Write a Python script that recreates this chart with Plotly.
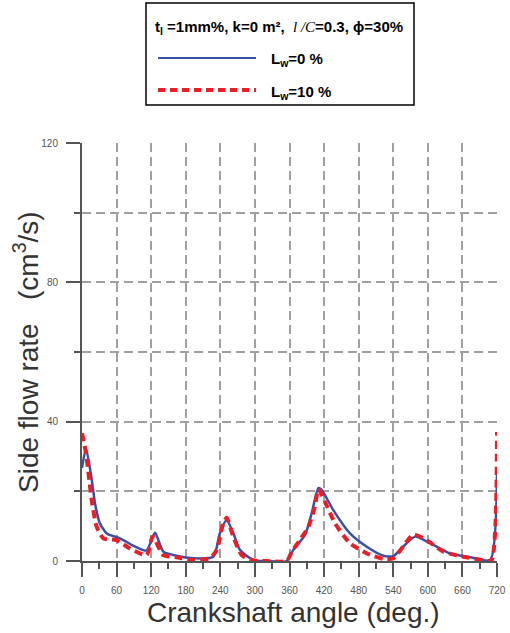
import plotly.graph_objects as go

# Lw = 0 %
angle_lw0 = [0, 7, 17, 22.5, 31, 43, 66, 89, 112, 126.6, 141, 164, 193, 228, 239, 251, 262.5, 274, 297, 320, 355,
             366.6, 387, 398.5, 410, 415.5, 436, 465, 494, 523, 540, 557, 578, 604, 638, 673, 708, 720]
flow_lw0 = [26.7, 32.3, 23.2, 16.6, 10.8, 7.9, 6.5, 4.4, 3.0, 8.1, 2.7, 1.5, 0.8, 1.2, 7.9, 11.8, 8.0, 3.2, 0.3, 0.0, 0.0,
            3.2, 7.5, 13.7, 20.9, 20.5, 14.6, 7.9, 4.1, 1.5, 1.4, 4.1, 7.0, 5.1, 2.2, 1.1, 0.3, 26.0]

# Lw = 10 %
angle_lw10 = [0, 7, 12.7, 16.8, 25.5, 37, 60, 83, 112, 122.6, 141, 164, 187, 222, 233.7, 245, 251, 262.5, 277, 297, 320, 355,
              364, 378, 392.7, 404, 410, 421.6, 439, 465, 494, 523, 540, 557, 574.8, 598, 627, 661.6, 696, 710, 720]
flow_lw10 = [36.7, 30.9, 23.2, 17.5, 9.8, 6.5, 6.0, 3.6, 1.7, 7.0, 1.7, 1.1, 0.3, 0.8, 3.2, 10.8, 12.4, 7.0, 1.7, 0.2, 0.0, 0.0,
             2.7, 6.0, 9.8, 15.6, 20.6, 17.0, 10.8, 5.1, 2.2, 0.6, 0.8, 4.1, 7.6, 6.0, 2.7, 1.2, 0.3, 0.0, 37.0]

x_ticks = [0, 60, 120, 180, 240, 300, 360, 420, 480, 540, 600, 660, 720]
y_ticks = [0, 40, 80, 120]

W, H = 510, 633
SL, ST, SR, SB = 82, 143, 497, 561
L, T, R, B = SL, ST, W - SR, H - SB
PW, PH = SR - SL, SB - ST


def px(x):
    return (x - SL) / PW


def py(y):
    return (SB - y) / PH


fig = go.Figure()
fig.add_trace(go.Scatter(x=angle_lw0, y=flow_lw0, mode="lines", name="Lw=0 %",
                         line=dict(color="#3a50a8", width=2.5, shape="spline", smoothing=0.6)))
fig.add_trace(go.Scatter(x=angle_lw10, y=flow_lw10, mode="lines", name="Lw=10 %",
                         line=dict(color="#ee1c25", width=4, dash="8px,5px", shape="spline", smoothing=0.6)))

grid_kw = dict(gridcolor="#a0a0a0", gridwidth=2, griddash="9px,5px")
title_font = dict(family="Liberation Sans, Arial", size=28, color="#333")

fig.update_xaxes(range=[0, 720], tickvals=x_ticks, ticks="outside", ticklen=14, tickwidth=2, tickcolor="#555",
                 showline=True, linecolor="#555", linewidth=2, zeroline=False, showgrid=True, **grid_kw,
                 minor=dict(dtick=30, tick0=0, ticks="outside", ticklen=6, tickwidth=1.5, tickcolor="#555", showgrid=False),
                 tickfont=dict(family="Liberation Sans, Arial", size=10, color="#555"), ticklabelstandoff=5,
                 automargin=False)
fig.update_yaxes(range=[0, 120], tickvals=y_ticks, ticks="outside", ticklen=14, tickwidth=2, tickcolor="#555",
                 showline=True, linecolor="#555", linewidth=2, zeroline=False, showgrid=True, **grid_kw,
                 minor=dict(dtick=20, tick0=0, ticks="outside", ticklen=6, tickwidth=1.5, tickcolor="#555",
                            showgrid=True, **grid_kw),
                 tickfont=dict(family="Liberation Sans, Arial", size=10, color="#555"), ticklabelstandoff=6,
                 automargin=False)

# legend box (manual)
fig.add_shape(type="rect", xref="paper", yref="paper", x0=px(146), x1=px(414), y0=py(105), y1=py(3),
              line=dict(color="black", width=1.5), fillcolor="white", layer="above")
fig.add_shape(type="line", xref="paper", yref="paper", x0=px(158), x1=px(256), y0=py(58), y1=py(58),
              line=dict(color="#3a50a8", width=2))
fig.add_shape(type="line", xref="paper", yref="paper", x0=px(158), x1=px(256), y0=py(90), y1=py(90),
              line=dict(color="#ee1c25", width=4, dash="7px,5px"))

lf = dict(family="Liberation Sans, Arial", size=15, color="black")
fig.add_annotation(xref="paper", yref="paper", x=px(279), y=py(27), xanchor="center", yanchor="middle", showarrow=False,
                   text="<b>t<sub>l</sub> =1mm%, k=0 m², </b> <span style='font-family:Liberation Serif;font-style:italic'>l /C</span><b>=0.3, ϕ=30%</b>",
                   font=lf)
fig.add_annotation(xref="paper", yref="paper", x=px(269), y=py(60), xanchor="left", yanchor="middle", showarrow=False,
                   text="<b>L<sub>w</sub>=0 %</b>", font=lf)
fig.add_annotation(xref="paper", yref="paper", x=px(269), y=py(92), xanchor="left", yanchor="middle", showarrow=False,
                   text="<b>L<sub>w</sub>=10 %</b>", font=lf)

# axis titles
fig.add_annotation(xref="paper", yref="paper", x=px(26), y=py(352), xanchor="center", yanchor="middle", showarrow=False,
                   textangle=-90, text="Side flow rate\u00a0\u00a0\u00a0(cm<sup>3</sup>/s)", font=title_font)
fig.add_annotation(xref="paper", yref="paper", x=px(293), y=py(612), xanchor="center", yanchor="middle", showarrow=False,
                   text="Crankshaft angle (deg.)", font=title_font)

fig.update_layout(width=W, height=H, margin=dict(l=L, r=R, t=T, b=B, autoexpand=False),
                  plot_bgcolor="white", paper_bgcolor="white", showlegend=False)

fig.write_html("out.html", config={"displayModeBar": False},
               post_script="document.body.style.margin='0';document.body.style.overflow='hidden';")
